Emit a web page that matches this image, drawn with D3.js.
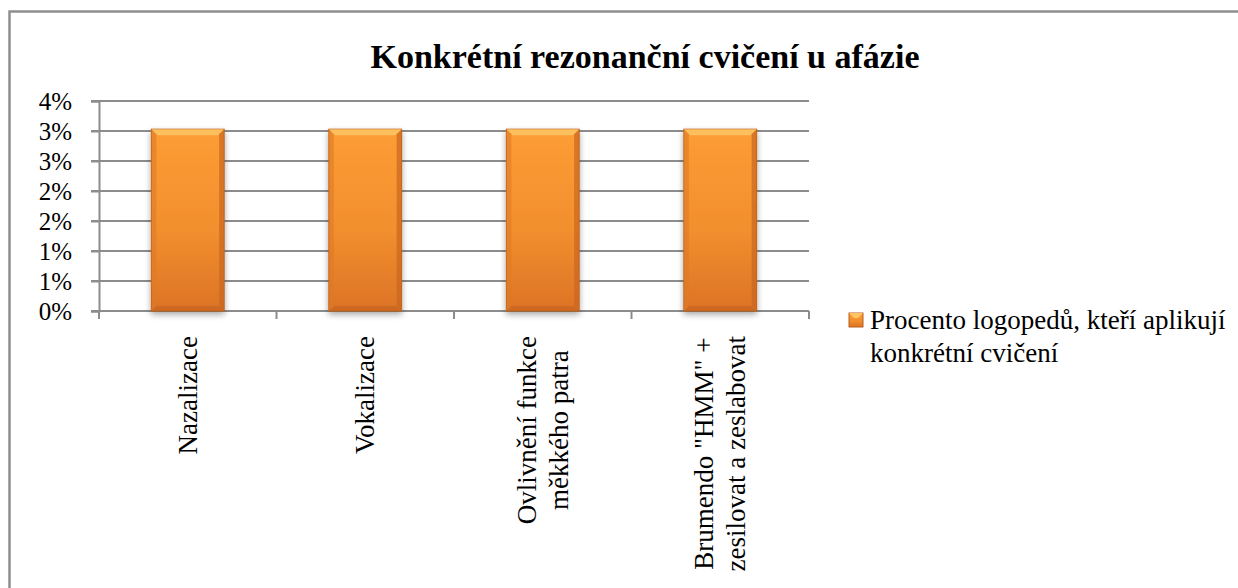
<!DOCTYPE html>
<html>
<head>
<meta charset="utf-8">
<script src="https://cdn.jsdelivr.net/npm/d3@7"></script>
<style>
  body { margin: 0; background: #fff; }
  svg { display: block; }
  svg text { font-family: "Liberation Serif", "Times New Roman", serif; fill: #000; }
</style>
</head>
<body>
<div id="chart"></div>
<script>

var categories = [
    ["Nazalizace"],
    ["Vokalizace"],
    ["Ovlivnění funkce", "měkkého patra"],
    ["Brumendo \"HMM\" +", "zesilovat a zeslabovat"]
];
var values = [0.0303, 0.0303, 0.0303, 0.0303];
var tickValues = [0, 0.005, 0.01, 0.015, 0.02, 0.025, 0.03, 0.035];
var tickLabels = ["0%", "1%", "1%", "2%", "2%", "3%", "3%", "4%"];
var title = "Konkrétní rezonanční cvičení u afázie";
var legendLines = ["Procento logopedů, kteří aplikují", "konkrétní cvičení"];

var width = 1238,
    height = 588;

var svg = d3.select("#chart").append("svg")
    .attr("width", width)
    .attr("height", height);

var defs = svg.append("defs");

var grad = defs.append("linearGradient")
    .attr("id", "barFill")
    .attr("x1", 0).attr("y1", 0).attr("x2", 0).attr("y2", 1);
grad.append("stop").attr("offset", "0%").attr("stop-color", "#fd9d35");
grad.append("stop").attr("offset", "55%").attr("stop-color", "#f28f2e");
grad.append("stop").attr("offset", "100%").attr("stop-color", "#dc7326");

var shadow = defs.append("filter")
    .attr("id", "shadow")
    .attr("x", "-20%").attr("y", "-10%")
    .attr("width", "140%").attr("height", "130%");
shadow.append("feGaussianBlur")
    .attr("in", "SourceAlpha")
    .attr("stdDeviation", 3);
shadow.append("feOffset").attr("dx", 0).attr("dy", 3).attr("result", "blur");
shadow.append("feComponentTransfer").append("feFuncA")
    .attr("type", "linear").attr("slope", 0.35);
var merge = shadow.append("feMerge");
merge.append("feMergeNode");
merge.append("feMergeNode").attr("in", "SourceGraphic");

// outer frame (runs off the right and bottom edges)
svg.append("rect")
    .attr("x", 9.5)
    .attr("y", 11.5)
    .attr("width", 1250)
    .attr("height", 620)
    .attr("fill", "none")
    .attr("stroke", "#8e8e8e")
    .attr("stroke-width", 2.5);

var plotLeft = 99, plotRight = 809, plotTop = 101, plotBottom = 311;

var x = d3.scaleBand()
    .domain(d3.range(categories.length))
    .range([plotLeft, plotRight])
    .paddingInner(0.59)
    .paddingOuter(0.295);

var y = d3.scaleLinear()
    .domain([0, 0.035])
    .range([plotBottom, plotTop]);

// gridlines
svg.append("g")
    .selectAll("line")
    .data(tickValues)
    .join("line")
    .attr("x1", plotLeft - 8)
    .attr("x2", plotRight)
    .attr("y1", function (d) { return y(d); })
    .attr("y2", function (d) { return y(d); })
    .attr("stroke", "#8c8c8c")
    .attr("stroke-width", 2);

// y axis
var yAxis = svg.append("g")
    .attr("transform", "translate(" + plotLeft + ",0)")
    .call(d3.axisLeft(y)
        .tickValues(tickValues)
        .tickSize(8)
        .tickFormat(function (d, i) { return tickLabels[i]; }));
yAxis.select(".domain").attr("stroke", "#8c8c8c").attr("stroke-width", 2);
yAxis.selectAll(".tick line").attr("stroke", "#8c8c8c").attr("stroke-width", 2);
yAxis.selectAll(".tick text")
    .attr("x", -27)
    .attr("dy", "0.33em")
    .attr("fill", "#000")
    .style("font-size", "25px")
    .style("font-family", "Liberation Serif, Times New Roman, serif");

// x axis line + ticks between categories
var xAxis = svg.append("g")
    .attr("transform", "translate(0," + plotBottom + ")");
xAxis.append("line")
    .attr("x1", plotLeft).attr("x2", plotRight)
    .attr("stroke", "#8c8c8c").attr("stroke-width", 2);
xAxis.selectAll(".sep")
    .data(d3.range(categories.length + 1))
    .join("line")
    .attr("class", "sep")
    .attr("x1", function (i) { return x.step() * i + plotLeft; })
    .attr("x2", function (i) { return x.step() * i + plotLeft; })
    .attr("y1", 0).attr("y2", 8)
    .attr("stroke", "#8c8c8c").attr("stroke-width", 2);

// bars
var bars = svg.append("g")
    .selectAll("g")
    .data(values)
    .join("g")
    .attr("filter", "url(#shadow)");

bars.append("rect")
    .attr("x", function (d, i) { return x(i); })
    .attr("y", function (d) { return y(d); })
    .attr("width", x.bandwidth())
    .attr("height", function (d) { return y(0) - y(d); })
    .attr("fill", "url(#barFill)")
    .attr("stroke", "#b85f1c")
    .attr("stroke-width", 1);

// bevel: light top edge, darker sides/bottom
bars.append("path")
    .attr("d", function (d, i) {
        var x0 = x(i), x1 = x(i) + x.bandwidth(), y0 = y(d), b = 6;
        return "M" + x0 + "," + y0 + "L" + x1 + "," + y0 +
            "L" + (x1 - b) + "," + (y0 + b) + "L" + (x0 + b) + "," + (y0 + b) + "Z";
    })
    .attr("fill", "#fec565")
    .attr("opacity", 0.85);
bars.append("path")
    .attr("d", function (d, i) {
        var x1 = x(i) + x.bandwidth(), y0 = y(d), y1 = y(0), b = 5;
        return "M" + x1 + "," + y0 + "L" + x1 + "," + y1 +
            "L" + (x1 - b) + "," + (y1 - b) + "L" + (x1 - b) + "," + (y0 + b) + "Z";
    })
    .attr("fill", "#c9661f")
    .attr("opacity", 0.7);
bars.append("path")
    .attr("d", function (d, i) {
        var x0 = x(i), y0 = y(d), y1 = y(0), b = 5;
        return "M" + x0 + "," + y0 + "L" + x0 + "," + y1 +
            "L" + (x0 + b) + "," + (y1 - b) + "L" + (x0 + b) + "," + (y0 + b) + "Z";
    })
    .attr("fill", "#e07a26")
    .attr("opacity", 0.6);
bars.append("path")
    .attr("d", function (d, i) {
        var x0 = x(i), x1 = x(i) + x.bandwidth(), y1 = y(0), b = 5;
        return "M" + x0 + "," + y1 + "L" + x1 + "," + y1 +
            "L" + (x1 - b) + "," + (y1 - b) + "L" + (x0 + b) + "," + (y1 - b) + "Z";
    })
    .attr("fill", "#c4641f")
    .attr("opacity", 0.7);

// category labels, rotated, block aligned to top
var labelTop = 336, lineGap = 32;
categories.forEach(function (lines, i) {
    var cx = x(i) + x.bandwidth() / 2;
    var g = svg.append("g");
    var texts = lines.map(function (s) {
        return g.append("text")
            .attr("text-anchor", "middle")
            .attr("dy", "0.33em")
            .style("font-size", "27px")
            .text(s);
    });
    var maxLen = d3.max(texts, function (t) { return t.node().getComputedTextLength(); });
    texts.forEach(function (t, k) {
        var lx = cx + (k - (lines.length - 1) / 2) * lineGap;
        t.attr("transform", "translate(" + lx + "," + (labelTop + maxLen / 2) + ") rotate(-90)");
    });
});

// title
svg.append("text")
    .attr("x", 645)
    .attr("y", 68)
    .attr("text-anchor", "middle")
    .style("font-size", "34px")
    .style("font-weight", "bold")
    .text(title);

// legend
var lg = svg.append("g").attr("transform", "translate(849,313)");
lg.append("rect")
    .attr("width", 14).attr("height", 14)
    .attr("fill", "url(#barFill)")
    .attr("stroke", "#b85f1c");
lg.append("path")
    .attr("d", "M0,0L14,0L9,5L5,5Z")
    .attr("fill", "#fec565");
lg.selectAll("text")
    .data(legendLines)
    .join("text")
    .attr("x", 21)
    .attr("y", function (d, i) { return 16 + i * 33; })
    .style("font-size", "27px")
    .text(function (d) { return d; });

</script>
</body>
</html>
